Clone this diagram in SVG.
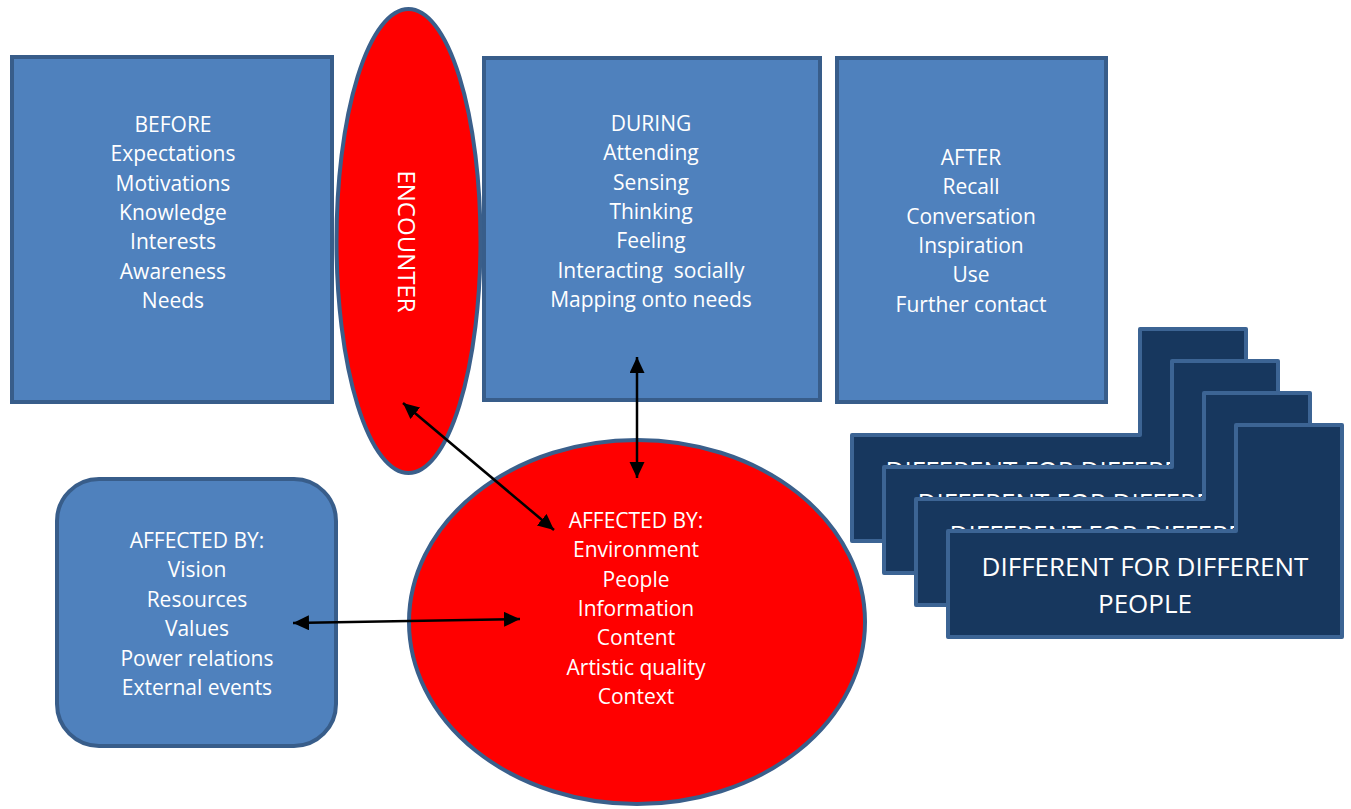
<svg xmlns="http://www.w3.org/2000/svg" width="1351" height="809" viewBox="0 0 1351 809">
  <defs>
    <style>
      .box { fill: #4f81bd; stroke: #385d8a; stroke-width: 4; }
      .red { fill: #ff0000; stroke: #3a5f8b; stroke-width: 4; }
      .card { fill: #17375e; stroke: #3c6494; stroke-width: 4; stroke-linejoin: round; }
      .t { font-family: "Open Sans", "Liberation Sans", sans-serif; font-size: 21px; fill: #ffffff; text-anchor: middle; }
      .ct { font-family: "Open Sans", "Liberation Sans", sans-serif; font-size: 26px; fill: #ffffff; text-anchor: middle; }
      .enc { font-family: "Open Sans", "Liberation Sans", sans-serif; font-size: 24px; fill: #ffffff; text-anchor: middle; }
      .conn { fill: none; stroke: #000000; stroke-width: 2.5; marker-start: url(#arrow); marker-end: url(#arrow); }
    </style>
    <marker id="arrow" markerUnits="userSpaceOnUse" markerWidth="17" markerHeight="16" refX="16" refY="7.5" orient="auto-start-reverse" viewBox="0 0 17 16">
      <path d="M0,0 L16,7.5 L0,15 Z" fill="#000000"/>
    </marker>
  </defs>

  <g id="before">
    <rect class="box" x="12" y="57" width="320" height="345"/>
    <text class="t" x="173" y="132">BEFORE</text>
    <text class="t" x="173" y="161.3">Expectations</text>
    <text class="t" x="173" y="190.6">Motivations</text>
    <text class="t" x="173" y="219.9">Knowledge</text>
    <text class="t" x="173" y="249.2">Interests</text>
    <text class="t" x="173" y="278.5">Awareness</text>
    <text class="t" x="173" y="307.8">Needs</text>
  </g>

  <g id="during">
    <rect class="box" x="484" y="58" width="336" height="342"/>
    <text class="t" x="651" y="131">DURING</text>
    <text class="t" x="651" y="160.3">Attending</text>
    <text class="t" x="651" y="189.6">Sensing</text>
    <text class="t" x="651" y="218.9">Thinking</text>
    <text class="t" x="651" y="248.2">Feeling</text>
    <text class="t" x="651" y="277.5" xml:space="preserve" style="white-space:pre">Interacting  socially</text>
    <text class="t" x="651" y="306.8">Mapping onto needs</text>
  </g>

  <g id="after">
    <rect class="box" x="837" y="58" width="269" height="344"/>
    <text class="t" x="971" y="165">AFTER</text>
    <text class="t" x="971" y="194.3">Recall</text>
    <text class="t" x="971" y="223.6">Conversation</text>
    <text class="t" x="971" y="252.9">Inspiration</text>
    <text class="t" x="971" y="282.2">Use</text>
    <text class="t" x="971" y="311.5">Further contact</text>
  </g>

  <g id="encounter">
    <ellipse class="red" cx="408.5" cy="241" rx="72" ry="232"/>
    <text class="enc" transform="translate(398,241.5) rotate(90)">ENCOUNTER</text>
  </g>

  <g id="affected-left">
    <rect class="box" x="57" y="479" width="279" height="267" rx="42" ry="42"/>
    <text class="t" x="197" y="548">AFFECTED BY:</text>
    <text class="t" x="197" y="577.4">Vision</text>
    <text class="t" x="197" y="606.8">Resources</text>
    <text class="t" x="197" y="636.2">Values</text>
    <text class="t" x="197" y="665.6">Power relations</text>
    <text class="t" x="197" y="695">External events</text>
  </g>

  <g id="affected-center">
    <ellipse class="red" cx="637" cy="622" rx="228" ry="182"/>
    <text class="t" x="636" y="528">AFFECTED BY:</text>
    <text class="t" x="636" y="557.3">Environment</text>
    <text class="t" x="636" y="586.6">People</text>
    <text class="t" x="636" y="615.9">Information</text>
    <text class="t" x="636" y="645.2">Content</text>
    <text class="t" x="636" y="674.5">Artistic quality</text>
    <text class="t" x="636" y="703.8">Context</text>
  </g>

  <g id="card-1">
    <path class="card" d="M852,435 H1140 V329 H1246 V541 H852 Z"/>
    <text class="ct" x="1049" y="480">DIFFERENT FOR DIFFERENT</text>
  </g>
  <g id="card-2">
    <path class="card" d="M884,467 H1172 V361 H1278 V573 H884 Z"/>
    <text class="ct" x="1081" y="512">DIFFERENT FOR DIFFERENT</text>
  </g>
  <g id="card-3">
    <path class="card" d="M916,499 H1204 V393 H1310 V605 H916 Z"/>
    <text class="ct" x="1113" y="544">DIFFERENT FOR DIFFERENT</text>
  </g>
  <g id="card-4">
    <path class="card" d="M948,531 H1236 V425 H1342 V637 H948 Z"/>
    <text class="ct" x="1145" y="576">DIFFERENT FOR DIFFERENT</text>
    <text class="ct" x="1145" y="613">PEOPLE</text>
  </g>

  <g id="connectors">
    <path class="conn" d="M637,357 L637,478"/>
    <path class="conn" d="M403,403 L554,530"/>
    <path class="conn" d="M293,623 L520,619"/>
  </g>
</svg>
